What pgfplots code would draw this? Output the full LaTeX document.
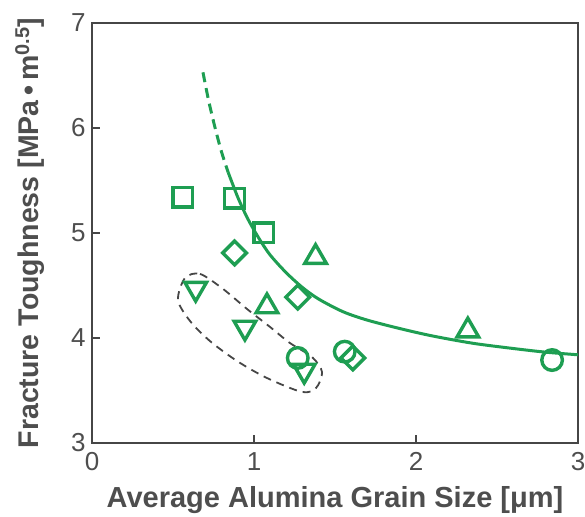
\documentclass[border=0pt]{standalone}
\usepackage{pgfplots}
\pgfplotsset{compat=1.18}
\usepackage{fontspec}
\setmainfont{Liberation Sans}
\definecolor{grn}{RGB}{30,158,82}
\definecolor{axgray}{RGB}{70,70,70}
\definecolor{txtgray}{RGB}{78,78,78}
\begin{document}
\begin{tikzpicture}
\begin{axis}[
  scale only axis, width=486pt, height=420pt,
  xmin=0, xmax=3, ymin=3, ymax=7,
  xtick={0,1,2,3}, ytick={3,4,5,6,7},
  tick pos=left, tick align=inside, major tick length=8pt,
  axis line style={axgray, line width=2.5pt},
  every tick/.style={axgray, line width=2.5pt},
  ticklabel style={font=\fontsize{26}{30}\selectfont, text=txtgray},
  xticklabel style={yshift=-6pt},
  yticklabel style={xshift=-3pt},
  /pgf/number format/assume math mode=true,
  xlabel={Average Alumina Grain Size [μm]},
  ylabel={Fracture Toughness [MPa\,•\,m\textsuperscript{0.5}]},
  xlabel style={font=\bfseries\fontsize{29}{32}\selectfont, text=txtgray},
  ylabel style={font=\bfseries\fontsize{28.5}{32}\selectfont, text=txtgray},
  xlabel shift=9pt,
  ylabel shift=20pt,
  clip=false,
]
% fitted trend: dashed extrapolation
\addplot[grn, line width=3pt, smooth, dash pattern=on 10pt off 6pt] coordinates {
 (0.685,6.53) (0.72,6.26) (0.76,6.00) (0.80,5.77) (0.84,5.58)
};
% fitted trend: solid
\addplot[grn, line width=3pt, smooth] coordinates {
 (0.84,5.58) (0.90,5.34) (0.96,5.14) (1.03,4.95) (1.10,4.79) (1.20,4.62)
 (1.30,4.48) (1.40,4.37) (1.55,4.25) (1.70,4.17) (1.90,4.09) (2.10,4.02)
 (2.35,3.95) (2.60,3.90) (2.80,3.865) (3.00,3.84)
};
% dashed ellipse
\addplot[axgray, line width=1.8pt, dash pattern=on 8pt off 6pt, smooth cycle] coordinates {
 (0.574,4.571) (0.667,4.610) (0.809,4.467) (0.957,4.276) (1.099,4.105) (1.222,3.952)
 (1.358,3.819) (1.420,3.676) (1.383,3.524) (1.296,3.486) (1.080,3.619) (0.895,3.781)
 (0.728,3.971) (0.605,4.162) (0.531,4.362)
};
% squares
\addplot[only marks, mark=square, mark size=9.8pt, grn, line width=3.4pt] coordinates {
 (0.56,5.34) (0.88,5.33) (1.06,5.00)
};
% diamonds
\addplot[only marks, mark=square, mark size=8.4pt, mark options={rotate=45}, grn, line width=3.4pt] coordinates {
 (0.88,4.81) (1.27,4.39) (1.61,3.81)
};
% triangles up
\addplot[only marks, mark=triangle, mark size=12.5pt, grn, line width=3.4pt] coordinates {
 (1.38,4.77) (1.08,4.30) (2.32,4.07)
};
% triangles down
\addplot[only marks, mark=triangle, mark size=12.5pt, mark options={rotate=180}, grn, line width=3.4pt] coordinates {
 (0.64,4.47) (0.944,4.10) (1.31,3.69)
};
% circles
\addplot[only marks, mark=o, mark size=10.3pt, grn, line width=3.4pt] coordinates {
 (1.27,3.81) (1.56,3.87) (2.84,3.79)
};
\end{axis}
\pgfresetboundingbox
\path[use as bounding box] ([shift={(-92pt,-74pt)}]current axis.south west) rectangle ([shift={(7pt,23pt)}]current axis.north east);
\end{tikzpicture}
\end{document}
